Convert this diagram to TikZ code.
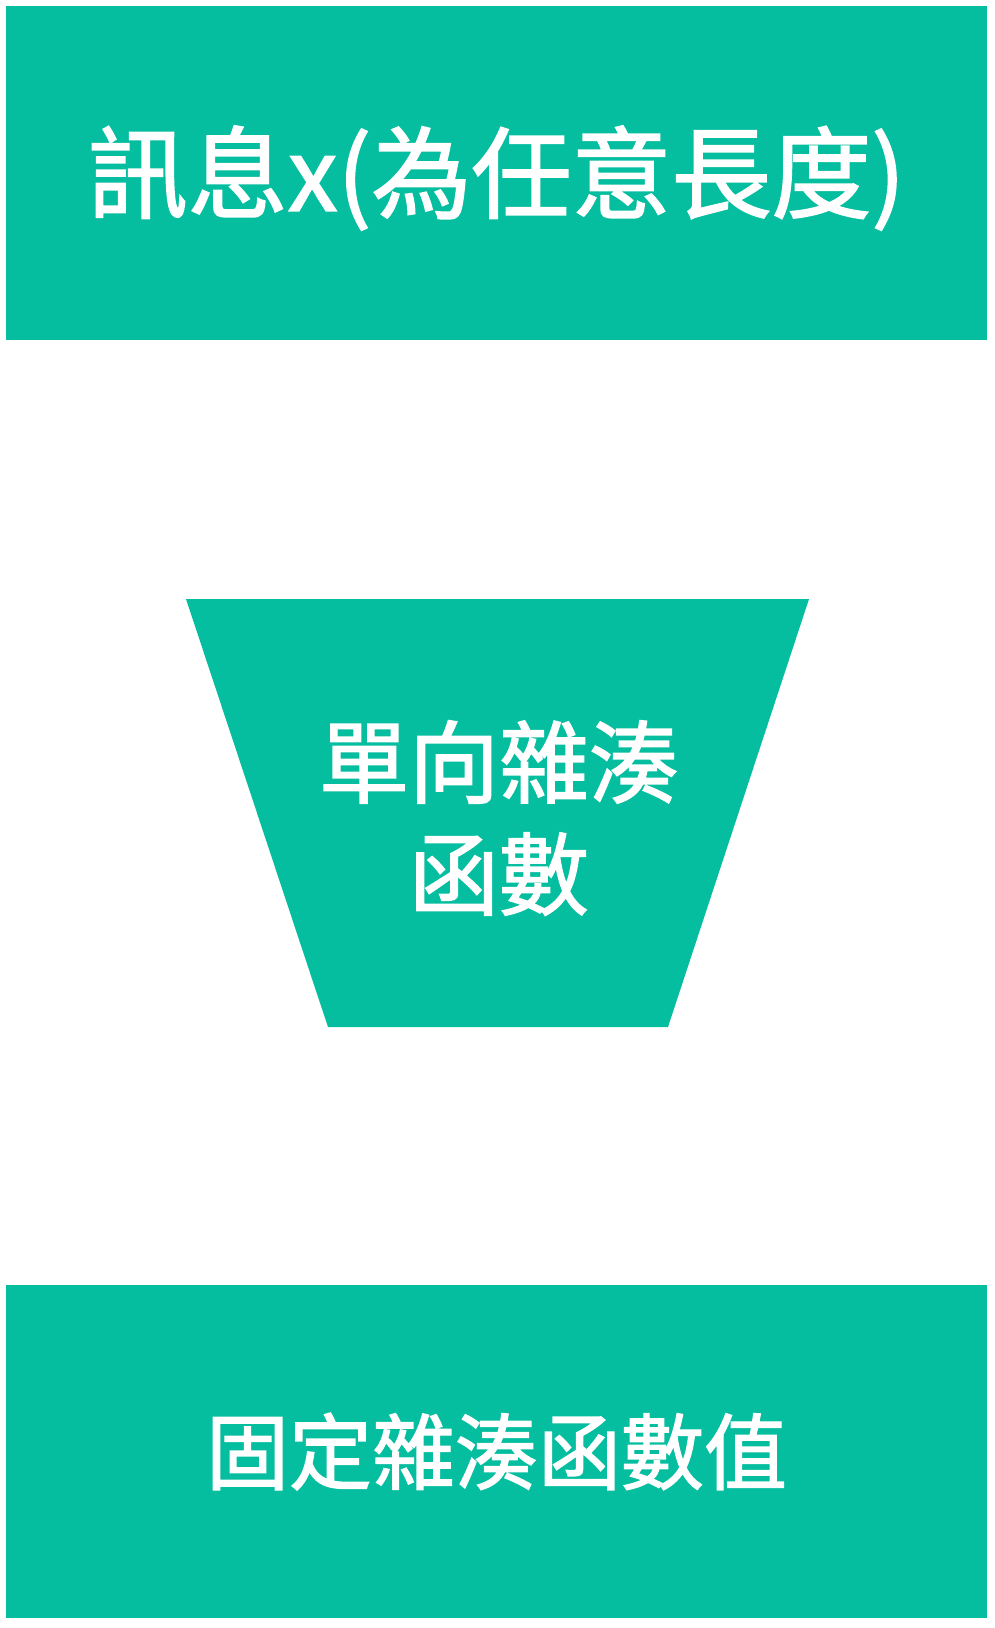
\documentclass[tikz,border=0pt]{standalone}
\usepackage{fontspec}
\newfontfamily\cjk[FakeBold=1.6]{Noto Sans CJK TC}
\definecolor{teal1}{HTML}{05BEA0}
\begin{document}
\begin{tikzpicture}[x=1pt,y=1pt,
  box/.style={fill=teal1,draw=none,minimum width=981pt,minimum height=334pt,inner sep=0pt,anchor=center},
  lbl/.style={text=white,align=center,inner sep=0pt,anchor=center}]
\useasboundingbox (0,0) rectangle (995,-1628);
\fill[white] (0,0) rectangle (995,-1628);
\node[box] (msg) at (496.5,-173) {};
\node[lbl,font=\cjk\fontsize{100}{112}\selectfont] (msgtext) at ([yshift=-5pt]msg.center) {訊息x(為任意長度)};
\fill[teal1] (186,-599) -- (809,-599) -- (668,-1027) -- (328,-1027) -- cycle;
\node[lbl,font=\cjk\fontsize{90}{112}\selectfont] (hash) at (499,-818) {單向雜湊\\函數};
\node[box,minimum height=333pt] (out) at (496.5,-1451.5) {};
\node[lbl,font=\cjk\fontsize{83}{100}\selectfont] (outtext) at (out.center) {固定雜湊函數值};
\end{tikzpicture}
\end{document}
